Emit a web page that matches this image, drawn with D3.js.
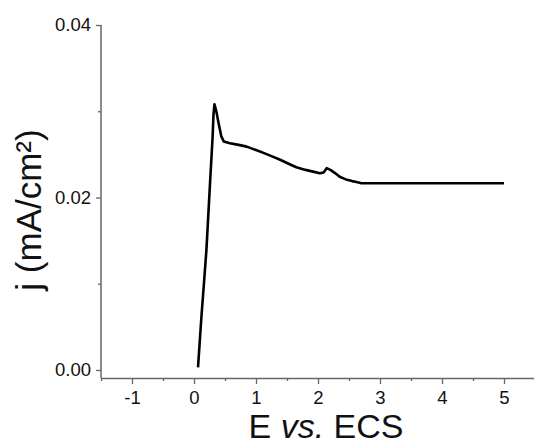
<!DOCTYPE html>
<html>
<head>
<meta charset="utf-8">
<script src="https://cdn.jsdelivr.net/npm/d3@7"></script>
<style>
  body { margin: 0; background: #fff; }
  svg text { font-family: Arial, "Liberation Sans", sans-serif; }
</style>
</head>
<body>
<div id="chart"></div>
<script>
// E vs. ECS (V) and current density j (mA/cm2)
const potential = [0.065, 0.09, 0.12, 0.16, 0.20, 0.265, 0.30, 0.315, 0.33, 0.36, 0.40, 0.44, 0.48,
  0.58, 0.72, 0.85, 1.0, 1.11, 1.25, 1.38, 1.5, 1.65, 1.8, 1.92, 2.03, 2.09, 2.14, 2.2, 2.28, 2.35,
  2.45, 2.55, 2.62, 2.7, 3.0, 3.5, 4.0, 4.5, 5.0];
const current = [0.0003, 0.0030, 0.0062, 0.0100, 0.0139, 0.0225, 0.0270, 0.0297, 0.0308, 0.0300, 0.0285, 0.0271, 0.0265,
  0.0263, 0.0261, 0.0259, 0.0255, 0.0252, 0.0248, 0.0244, 0.0240, 0.0235, 0.0232, 0.0230, 0.0228, 0.0229, 0.0234, 0.0232, 0.0228, 0.0224,
  0.0221, 0.0219, 0.0218, 0.02165, 0.02165, 0.02165, 0.02165, 0.02165, 0.02165];

const xMajor = [-1, 0, 1, 2, 3, 4, 5];
const xMinor = [-1.5, -0.5, 0.5, 1.5, 2.5, 3.5, 4.5, 5.5];
const yMajor = [0, 0.02, 0.04];
const yMinor = [0.01, 0.03];

const width = 534, height = 446;

const svg = d3.select("#chart").append("svg")
  .attr("width", width)
  .attr("height", height);

const x = d3.scaleLinear().domain([-1.5, 5.5]).range([101, 535]);
const y = d3.scaleLinear().domain([-0.00093, 0.04]).range([378, 25]);

const axisColor = "#666";

// minor ticks first
svg.append("g")
  .attr("transform", "translate(0,378)")
  .call(d3.axisBottom(x).tickValues(xMinor).tickSize(3).tickFormat(""))
  .call(g => g.select(".domain").remove())
  .call(g => g.selectAll("line").attr("stroke", axisColor).attr("stroke-width", 1.3));

svg.append("g")
  .attr("transform", "translate(101,0)")
  .call(d3.axisLeft(y).tickValues(yMinor).tickSize(3).tickFormat(""))
  .call(g => g.select(".domain").remove())
  .call(g => g.selectAll("line").attr("stroke", axisColor).attr("stroke-width", 1.3));

// x axis (plain hyphen for negatives, like the original)
const xAxis = svg.append("g")
  .attr("transform", "translate(0,378)")
  .call(d3.axisBottom(x).tickValues(xMajor).tickSize(6).tickSizeOuter(0).tickPadding(7)
    .tickFormat(d => String(d)));
xAxis.select(".domain").attr("stroke", axisColor).attr("stroke-width", 1.5);
xAxis.selectAll("line").attr("stroke", axisColor).attr("stroke-width", 1.3);
xAxis.selectAll("text").attr("font-size", 18.5).attr("fill", "#111");

// y axis
const yAxis = svg.append("g")
  .attr("transform", "translate(101,0)")
  .call(d3.axisLeft(y).tickValues(yMajor).tickSize(5).tickSizeOuter(0).tickPadding(5)
    .tickFormat(d3.format(".2f")));
yAxis.select(".domain")
  .attr("d", `M0,${y(0.04)}V378`)
  .attr("stroke", axisColor).attr("stroke-width", 1.5);
yAxis.selectAll("line").attr("stroke", axisColor).attr("stroke-width", 1.3);
yAxis.selectAll("text").attr("font-size", 18.5).attr("fill", "#111");

// curve
const data = potential.map((e, i) => ({ e: e, j: current[i] }));
const line = d3.line()
  .x(d => x(d.e))
  .y(d => y(d.j));

svg.append("path")
  .datum(data)
  .attr("fill", "none")
  .attr("stroke", "#000")
  .attr("stroke-width", 2.6)
  .attr("stroke-linejoin", "round")
  .attr("d", line);

// axis titles
const xTitle = svg.append("text")
  .attr("x", 326)
  .attr("y", 438)
  .attr("text-anchor", "middle")
  .attr("font-size", 34)
  .attr("fill", "#111");
xTitle.append("tspan").text("E ");
xTitle.append("tspan").attr("font-style", "italic").text("vs.");
xTitle.append("tspan").text(" ECS");

svg.append("text")
  .attr("transform", "translate(41,210) rotate(-90)")
  .attr("text-anchor", "middle")
  .attr("font-size", 35)
  .attr("fill", "#111")
  .text("j (mA/cm²)");
</script>
</body>
</html>
